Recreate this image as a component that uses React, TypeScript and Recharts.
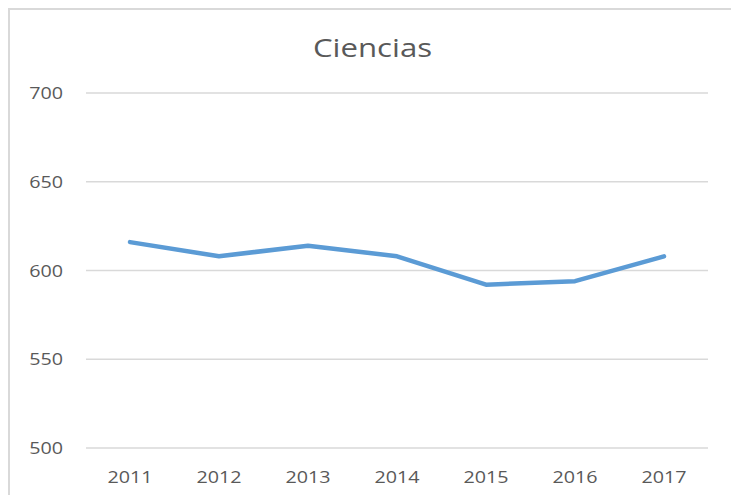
import { LineChart, Line, XAxis, YAxis, CartesianGrid } from 'recharts';

const years = ['2011', '2012', '2013', '2014', '2015', '2016', '2017'];
const ciencias = [616, 608, 614, 608, 592, 594, 608];
const yTicks = [500, 550, 600, 650, 700];

const data = years.map((year, i) => ({ year, value: ciencias[i] }));

const FONT = '"Open Sans", sans-serif';
const GREY = '#595959';

function YTick({ x, y, payload }: any) {
  return (
    <g transform={`translate(${x},${y})`}>
      <text transform="scale(1.16,1)" textAnchor="end" dy="0.355em" fill={GREY} fontSize={17} fontFamily={FONT}>
        {payload.value}
      </text>
    </g>
  );
}

function XTick({ x, y, payload }: any) {
  return (
    <g transform={`translate(${x},${y + 21})`}>
      <text transform="scale(1.16,1)" textAnchor="middle" dy="0.355em" fill={GREY} fontSize={17} fontFamily={FONT}>
        {payload.value}
      </text>
    </g>
  );
}

export default function App() {
  return (
    <div
      style={{
        position: 'relative',
        width: 725,
        height: 496,
        border: '2px solid #d9d9d9',
        background: '#fff',
      }}
    >
      <div
        style={{
          position: 'absolute',
          top: 20,
          left: 0,
          width: 725,
          textAlign: 'center',
          fontFamily: FONT,
          fontSize: 26,
          color: GREY,
          transform: 'scaleX(1.2)',
          lineHeight: '34px',
        }}
      >
        Ciencias
      </div>
      <LineChart width={725} height={496} data={data} margin={{ top: 83, right: 27, bottom: 28, left: 0 }}>
        <CartesianGrid vertical={false} stroke="#d9d9d9" strokeWidth={1.5} />
        <XAxis
          dataKey="year"
          axisLine={false}
          tickLine={false}
          height={30}
          tick={<XTick />}
          interval={0}
          padding={{ left: 44, right: 44 }}
        />
        <YAxis
          domain={[500, 700]}
          ticks={yTicks}
          width={76}
          axisLine={false}
          tickLine={false}
          tickMargin={17}
          tick={<YTick />}
        />
        <Line
          type="linear"
          dataKey="value"
          stroke="#5b9bd5"
          strokeWidth={4.5}
          strokeLinecap="round"
          strokeLinejoin="round"
          dot={false}
          isAnimationActive={false}
        />
      </LineChart>
    </div>
  );
}
